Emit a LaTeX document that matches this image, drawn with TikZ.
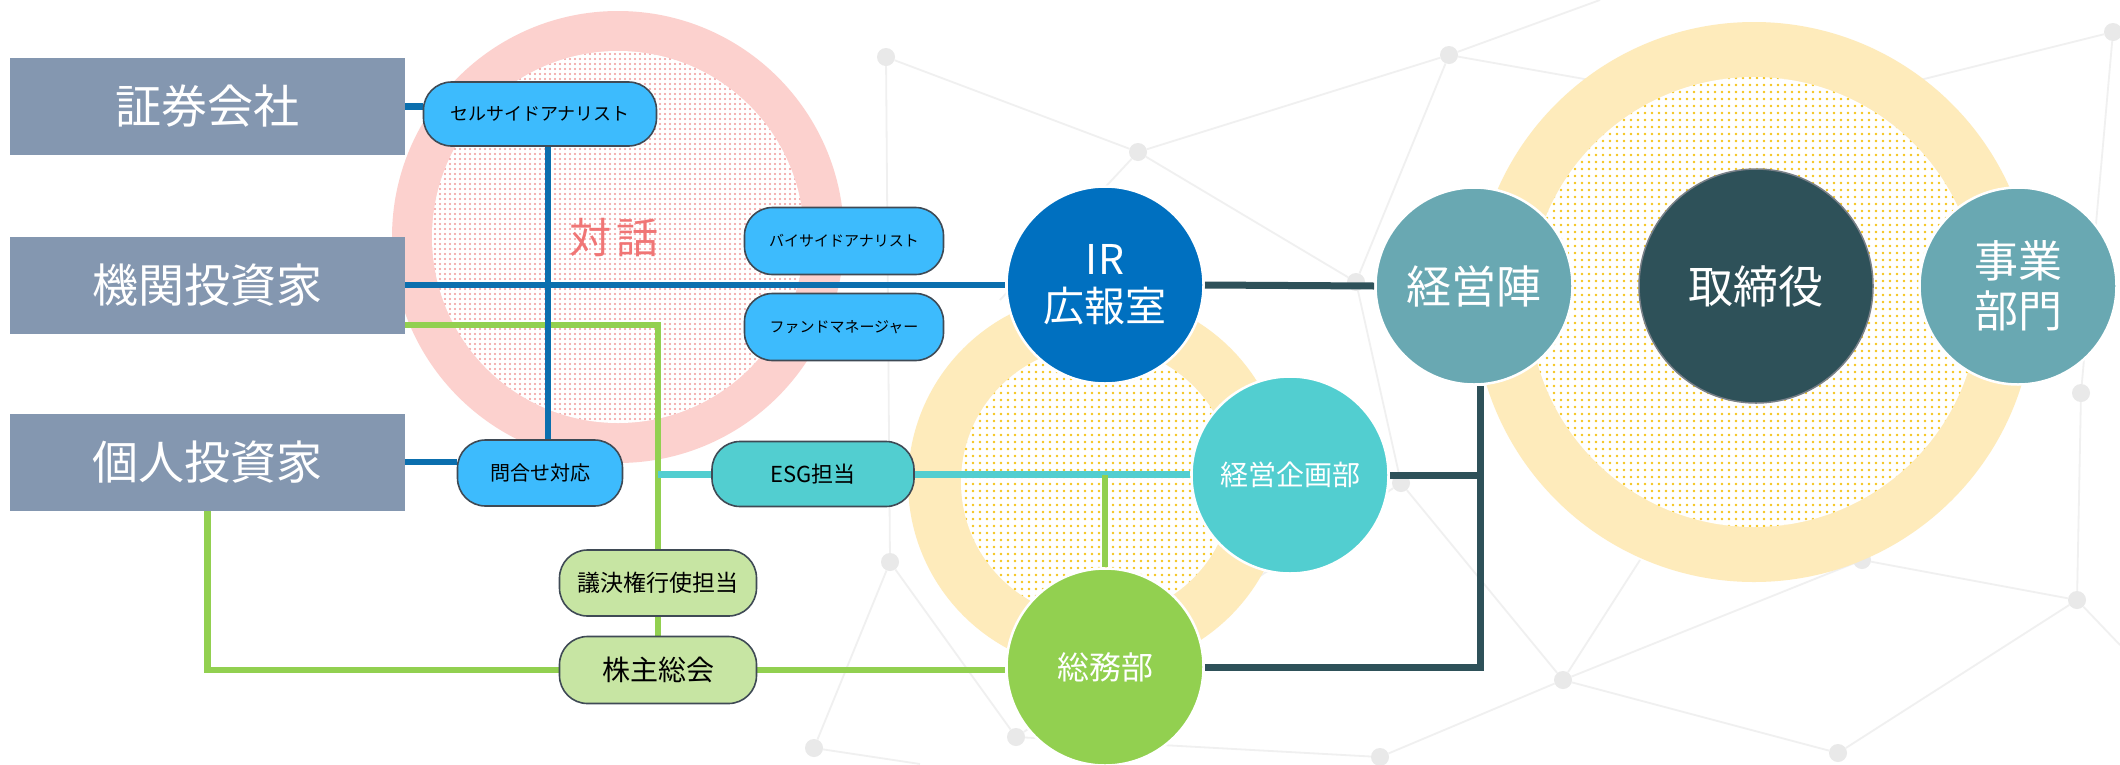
\documentclass[tikz,border=0pt]{standalone}
\usepackage{fontspec}
\setmainfont{Noto Sans CJK JP}
\usetikzlibrary{patterns.meta}
\definecolor{boxc}{HTML}{8497B0}
\definecolor{blueline}{HTML}{0B6FAE}
\definecolor{pillblue}{HTML}{3DBBFD}
\definecolor{pillborder}{HTML}{3F4A55}
\definecolor{cyanc}{HTML}{52CED0}
\definecolor{lgreen}{HTML}{C7E5A3}
\definecolor{greenc}{HTML}{92D050}
\definecolor{darkc}{HTML}{2E5159}
\definecolor{tealc}{HTML}{69A8B2}
\definecolor{irblue}{HTML}{0070C0}
\definecolor{pinkring}{HTML}{FCD1CE}
\definecolor{pinkdot}{HTML}{F09A9A}
\definecolor{yring}{HTML}{FEEBBB}
\definecolor{ydot}{HTML}{F4C41A}
\definecolor{taiwa}{HTML}{F07575}
\definecolor{netc}{HTML}{F0F0F0}
\definecolor{netdotc}{HTML}{E9E9E9}
\pgfdeclarelayer{bg}
\pgfdeclarelayer{lines}
\pgfsetlayers{bg,lines,main}
\tikzset{
  srcbox/.style={rectangle, fill=boxc, minimum width=395pt, minimum height=97pt, inner sep=0pt, text=white, font=\fontsize{46}{52}\selectfont},
  pill/.style={rectangle, rounded corners=28pt, draw=pillborder, line width=1.6pt, inner sep=0pt, text=black},
  bluepill/.style={pill, fill=pillblue},
  greenpill/.style={pill, fill=lgreen},
  cyanpill/.style={pill, fill=cyanc},
  disc/.style={circle, draw=white, line width=2.5pt, inner sep=0pt, text=white, align=center},
  bline/.style={line width=6.5pt, draw=blueline},
  gline/.style={line width=6.5pt, draw=greenc},
  cline/.style={line width=7pt, draw=cyanc},
  dline/.style={line width=7pt, draw=darkc},
  netline/.style={line width=1.8pt, draw=netc},
  netdot/.style={circle, fill=netdotc, minimum size=18pt, inner sep=0pt},
}
\begin{document}
\begin{tikzpicture}[x=1pt,y=-1pt]
\useasboundingbox (0,0) rectangle (2120,764);

% ---------- background network ----------
\begin{pgfonlayer}{bg}
\fill[white] (0,0) rectangle (2120,764);
\node[netdot] (na) at (886,57) {};
\node[netdot] (nb) at (1138,152) {};
\node[netdot] (nc) at (1449,55) {};
\node[netdot] (nd) at (1356,282) {};
\node[netdot] (ne) at (1401,483) {};
\node[netdot] (nf) at (890,562) {};
\node[netdot] (ng) at (814,748) {};
\node[netdot] (nh) at (1016,737) {};
\node[netdot] (ni) at (1380,757) {};
\node[netdot] (nj) at (1563,680) {};
\node[netdot] (nk) at (1862,560) {};
\node[netdot] (nl) at (2077,600) {};
\node[netdot] (nm) at (1838,753) {};
\node[netdot] (nn) at (2081,393) {};
\node[netdot] (no) at (2113,32) {};
\coordinate (x1) at (1590,80);
\coordinate (x2) at (1000,300);
\coordinate (x3) at (1920,80);
\coordinate (x4) at (2120,645);
\coordinate (x5) at (1640,560);
\coordinate (x6) at (1880,380);
\coordinate (x7) at (920,764);
\coordinate (x8) at (1600,0);
\draw[netline] (na) -- (nb) -- (nc) -- (x1);
\draw[netline] (na) -- (nf) -- (nh) -- (ni) -- (nj);
\draw[netline] (nb) -- (nd) -- (ne) -- (nj) -- (nk) -- (nl) -- (nn);
\draw[netline] (nb) -- (x2);
\draw[netline] (nc) -- (nd);
\draw[netline] (nc) -- (x8);
\draw[netline] (no) -- (x3);
\draw[netline] (nj) -- (nm) -- (nl) -- (x4);
\draw[netline] (nj) -- (x5);
\draw[netline] (nk) -- (x6);
\draw[netline] (nf) -- (ng) -- (x7);
\draw[netline] (ne) -- (nh);
\draw[netline] (nn) -- (no);

% ---------- pink ring ----------
\fill[pinkring] (618,237) circle[radius=226];
\fill[white] (618,237) circle[radius=186];
\fill[pattern={Dots[radius=1.05pt,distance=5pt]}, pattern color=pinkdot] (618,237) circle[radius=186];
% ---------- yellow rings ----------
\fill[yring] (1097,482) circle[radius=189];
\fill[white] (1097,482) circle[radius=136];
\fill[pattern={Dots[radius=1.4pt,distance=7pt]}, pattern color=ydot] (1097,482) circle[radius=136];
\fill[yring] (1754,302) circle[radius=280];
\fill[white] (1754,302) circle[radius=225];
\fill[pattern={Dots[radius=1.4pt,distance=7pt]}, pattern color=ydot] (1754,302) circle[radius=225];
\end{pgfonlayer}

% ---------- nodes ----------
\node[srcbox] (shoken) at (207.5,106.5) {証券会社};
\node[srcbox] (kikan) at (207.5,285) {機関投資家};
\node[srcbox] (kojin) at (207.5,462) {個人投資家};

\node[text=taiwa, font=\fontsize{42}{46}\selectfont] (taiwa) at (614,238) {対\hspace{6pt}話};

\node[bluepill, minimum width=233pt, minimum height=64pt, font=\fontsize{18}{20}\selectfont] (sell) at (540,114) {セルサイドアナリスト};
\node[bluepill, minimum width=165pt, minimum height=66pt, font=\fontsize{20}{22}\selectfont] (inq) at (540,473) {問合せ対応};
\node[bluepill, minimum width=199pt, minimum height=67pt, font=\fontsize{15}{17}\selectfont] (buy) at (844,241) {バイサイドアナリスト};
\node[bluepill, minimum width=199pt, minimum height=67pt, font=\fontsize{15}{17}\selectfont] (fund) at (844,327) {ファンドマネージャー};
\node[cyanpill, minimum width=202pt, minimum height=65pt, font=\fontsize{22}{24}\selectfont] (esg) at (813,474) {ESG担当};
\node[greenpill, minimum width=197pt, minimum height=66pt, font=\fontsize{23}{25}\selectfont] (vote) at (658,583) {議決権行使担当};
\node[greenpill, minimum width=197pt, minimum height=67pt, font=\fontsize{28}{30}\selectfont] (agm) at (658,670) {株主総会};

\node[disc, fill=irblue, minimum size=197pt, font=\fontsize{41}{47}\selectfont] (ir) at (1105,285) {IR\\広報室};
\node[disc, fill=tealc, minimum size=197pt, font=\fontsize{45}{50}\selectfont] (keiei) at (1474,286) {経営陣};
\node[disc, fill=darkc, draw=pillborder!70, line width=1.5pt, minimum size=234pt, font=\fontsize{45}{50}\selectfont] (tori) at (1756,286) {取締役};
\node[disc, fill=tealc, minimum size=197pt, font=\fontsize{44}{50}\selectfont] (jigyo) at (2018,286) {事業\\部門};
\node[disc, fill=cyanc, minimum size=197pt, font=\fontsize{28}{32}\selectfont] (keikaku) at (1290,475) {経営企画部};
\node[disc, fill=greenc, minimum size=197pt, font=\fontsize{32}{36}\selectfont] (soumu) at (1105,667) {総務部};

% ---------- connectors ----------
\coordinate (g1) at (658,325);
\coordinate (d1) at (1480,476);
\begin{pgfonlayer}{lines}
\draw[gline] (kikan.east |- g1) -- (g1) -- (vote.north);
\draw[gline] (vote.south) -- (agm.north);
\draw[gline] (kojin.south) -- (kojin.south |- agm.west) -- (agm.west);
\draw[gline] (agm.east) -- (agm.east -| soumu.west);
\draw[cline] (g1 |- esg.west) -- (esg.west);
\draw[cline] (esg.east) -- (esg.east -| keikaku.west);
\draw[gline] (soumu.north |- keikaku.west) -- (soumu.north);
\draw[bline] (shoken.east) -- (shoken.east -| sell.west);
\draw[bline] ([xshift=8pt]sell.south) -- ([xshift=8pt]inq.north);
\draw[bline] (kojin.east) -- (kojin.east -| inq.west);
\draw[bline] (kikan.east) -- (ir.west);
\draw[dline] (ir.east) -- (keiei.west);
\draw[dline] (keiei.south -| d1) -- (d1 |- soumu.east) -- (soumu.east);
\draw[dline] (keikaku.east) -- (keikaku.east -| d1);
\end{pgfonlayer}
\end{tikzpicture}
\end{document}
